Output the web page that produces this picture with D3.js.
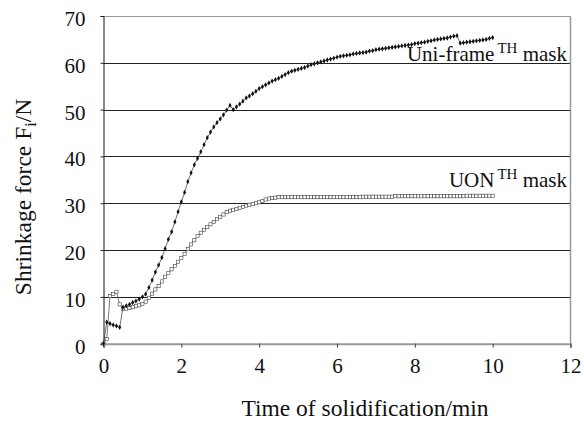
<!DOCTYPE html>
<html>
<head>
<meta charset="utf-8">
<script src="https://cdn.jsdelivr.net/npm/d3@7"></script>
<style>
  body { margin: 0; background: #fff; }
  text { font-family: "Liberation Serif", "Times New Roman", serif; fill: #111; }
</style>
</head>
<body>
<svg id="svg" width="584" height="423"></svg>
<script>
// time of solidification, seconds (one reading every 5 s)
var timeSec = [
  0, 5, 10, 15, 20, 25, 30, 35, 40, 45, 50, 55,
  60, 65, 70, 75, 80, 85, 90, 95, 100, 105, 110, 115,
  120, 125, 130, 135, 140, 145, 150, 155, 160, 165, 170, 175,
  180, 185, 190, 195, 200, 205, 210, 215, 220, 225, 230, 235,
  240, 245, 250, 255, 260, 265, 270, 275, 280, 285, 290, 295,
  300, 305, 310, 315, 320, 325, 330, 335, 340, 345, 350, 355,
  360, 365, 370, 375, 380, 385, 390, 395, 400, 405, 410, 415,
  420, 425, 430, 435, 440, 445, 450, 455, 460, 465, 470, 475,
  480, 485, 490, 495, 500, 505, 510, 515, 520, 525, 530, 535,
  540, 545, 550, 555, 560, 565, 570, 575, 580, 585, 590, 595,
  600
];

// Uni-frame TH mask, shrinkage force (N)
var uniFrame = [
  0, 4.6, 4.3, 4.0, 3.8, 3.5, 7.8, 8.1, 8.4, 8.8, 9.1, 9.5,
  10.0, 10.6, 12.0, 13.6, 15.3, 16.8, 18.4, 20.3, 22.3, 23.9, 26.0, 28.2,
  30.3, 32.3, 34.6, 36.5, 38.2, 39.6, 41.0, 42.5, 44.0, 45.2, 46.3, 47.2,
  48.0, 48.9, 49.9, 50.9, 50.0, 50.6, 51.2, 51.8, 52.5, 52.9, 53.4, 53.9,
  54.5, 54.9, 55.3, 55.7, 56.1, 56.4, 56.7, 57.1, 57.5, 57.9, 58.2, 58.4,
  58.6, 58.8, 59.0, 59.3, 59.6, 59.8, 60.0, 60.2, 60.4, 60.6, 60.8, 61.0,
  61.2, 61.4, 61.5, 61.6, 61.7, 61.9, 62.0, 62.1, 62.2, 62.3, 62.5, 62.6,
  62.8, 62.9, 63.0, 63.1, 63.2, 63.3, 63.4, 63.5, 63.6, 63.7, 63.8, 63.9,
  64.1, 64.2, 64.3, 64.4, 64.6, 64.7, 64.9, 65.0, 65.1, 65.2, 65.3, 65.5,
  65.7, 65.8, 64.2, 64.3, 64.4, 64.5, 64.6, 64.7, 64.8, 64.9, 65.0, 65.2,
  65.4
];

// UON TH mask, shrinkage force (N)
var uon = [
  0, 1.0, 10.2, 10.6, 11.1, 8.4, 7.4, 7.5, 7.6, 7.8, 8.0, 8.2,
  8.5, 9.0, 9.8, 10.7, 11.6, 12.3, 13.3, 14.3, 15.1, 15.9, 16.6, 17.5,
  18.3, 19.2, 20.2, 21.2, 22.1, 23.0, 23.7, 24.3, 24.9, 25.5, 26.0, 26.6,
  27.1, 27.6, 28.1, 28.4, 28.6, 28.8, 29.0, 29.2, 29.5, 29.7, 29.8, 30.0,
  30.2, 30.5, 30.8, 31.0, 31.1, 31.2, 31.3, 31.3, 31.3, 31.3, 31.3, 31.3,
  31.3, 31.3, 31.3, 31.3, 31.3, 31.3, 31.3, 31.3, 31.3, 31.3, 31.3, 31.3,
  31.3, 31.3, 31.3, 31.3, 31.3, 31.3, 31.3, 31.3, 31.4, 31.4, 31.4, 31.4,
  31.4, 31.4, 31.4, 31.4, 31.4, 31.4, 31.5, 31.5, 31.5, 31.5, 31.5, 31.5,
  31.5, 31.5, 31.5, 31.5, 31.5, 31.5, 31.5, 31.5, 31.5, 31.5, 31.5, 31.5,
  31.5, 31.5, 31.5, 31.5, 31.6, 31.6, 31.6, 31.6, 31.6, 31.6, 31.6, 31.6,
  31.6
];

var xTicks = [0, 2, 4, 6, 8, 10, 12];
var yTicks = [0, 10, 20, 30, 40, 50, 60, 70];

var svg = d3.select("#svg");
var pLeft = 103.5, pRight = 570.5, pTop = 16, pBottom = 343.7;

var scaleX = d3.scaleLinear().domain([0, 12]).range([pLeft, pRight]);
var scaleY = d3.scaleLinear().domain([0, 70]).range([pBottom, pTop]);

// grid lines (top one is the grey frame)
svg.append("g").selectAll("line")
  .data(yTicks.filter(function(d) { return d > 0; }))
  .enter().append("line")
  .attr("x1", pLeft).attr("x2", pRight)
  .attr("y1", function(d) { return Math.round(scaleY(d)) + 0.5; })
  .attr("y2", function(d) { return Math.round(scaleY(d)) + 0.5; })
  .attr("stroke", function(d) { return d == 70 ? "#999" : "#222"; })
  .attr("stroke-width", 1);

// right frame
svg.append("line")
  .attr("x1", pRight).attr("x2", pRight)
  .attr("y1", Math.round(scaleY(70)) + 0.5).attr("y2", pBottom)
  .attr("stroke", "#999").attr("stroke-width", 1.5);

// axe X
var axisX = d3.axisBottom(scaleX).tickValues(xTicks).tickSize(4).tickPadding(10).tickFormat(d3.format("d"));
var gAxisX = svg.append("g").attr("transform", "translate(0," + pBottom + ")").call(axisX);
gAxisX.select(".domain").attr("stroke", "#999").attr("stroke-width", 2);
gAxisX.selectAll(".tick line").attr("stroke", "#444");
gAxisX.selectAll("text").style("font-size", "21px").style("font-family", "Liberation Serif");

// axe Y
var axisY = d3.axisLeft(scaleY).tickValues(yTicks).tickSize(3).tickPadding(15).tickFormat(d3.format("d"));
var gAxisY = svg.append("g").attr("transform", "translate(" + pLeft + ",0)").call(axisY);
gAxisY.select(".domain").attr("stroke", "#111").attr("stroke-width", 1);
gAxisY.selectAll(".tick line").attr("stroke", "#222");
gAxisY.selectAll("text").style("font-size", "21px").style("font-family", "Liberation Serif").attr("dy", "0.45em");

// series
function pts(values) {
  return values.map(function(v, i) { return [timeSec[i] / 60, v]; });
}
var line = d3.line()
  .x(function(d) { return scaleX(d[0]); })
  .y(function(d) { return scaleY(d[1]); });

var uonPts = pts(uon);
var uniPts = pts(uniFrame);

svg.append("path").datum(uonPts)
  .attr("d", line).attr("fill", "none").attr("stroke", "#444").attr("stroke-width", 0.7);
svg.append("g").selectAll("rect")
  .data(uonPts).enter().append("rect")
  .attr("x", function(d) { return scaleX(d[0]) - 1.6; })
  .attr("y", function(d) { return scaleY(d[1]) - 1.6; })
  .attr("width", 3.2).attr("height", 3.2)
  .attr("fill", "#fff").attr("stroke", "#444").attr("stroke-width", 0.6);

svg.append("path").datum(uniPts)
  .attr("d", line).attr("fill", "none").attr("stroke", "#333").attr("stroke-width", 0.7);
svg.append("g").selectAll("path")
  .data(uniPts).enter().append("path")
  .attr("d", d3.symbol().type(d3.symbolDiamond).size(8))
  .attr("transform", function(d) { return "translate(" + scaleX(d[0]) + "," + scaleY(d[1]) + ")"; })
  .attr("fill", "#111");

// annotations
function label(y, name) {
  var t = svg.append("text").attr("x", 567).attr("y", y).attr("text-anchor", "end").style("font-size", "21px");
  t.append("tspan").text(name);
  t.append("tspan").attr("dy", -8).attr("dx", 3).style("font-size", "15px").text("TH");
  t.append("tspan").attr("dy", 8).text(" mask");
}
label(61, "Uni-frame");
label(187, "UON");

// titre axe X
svg.append("text")
  .attr("x", 365).attr("y", 416)
  .attr("text-anchor", "middle")
  .style("font-size", "23.5px")
  .text("Time of solidification/min");

// titre axe Y
var yt = svg.append("text")
  .attr("transform", "translate(31,197) rotate(-90)")
  .attr("text-anchor", "middle")
  .style("font-size", "23.5px");
yt.append("tspan").text("Shrinkage force F");
yt.append("tspan").attr("dy", 5).style("font-size", "16px").text("i");
yt.append("tspan").attr("dy", -5).text("/N");
</script>
</body>
</html>
